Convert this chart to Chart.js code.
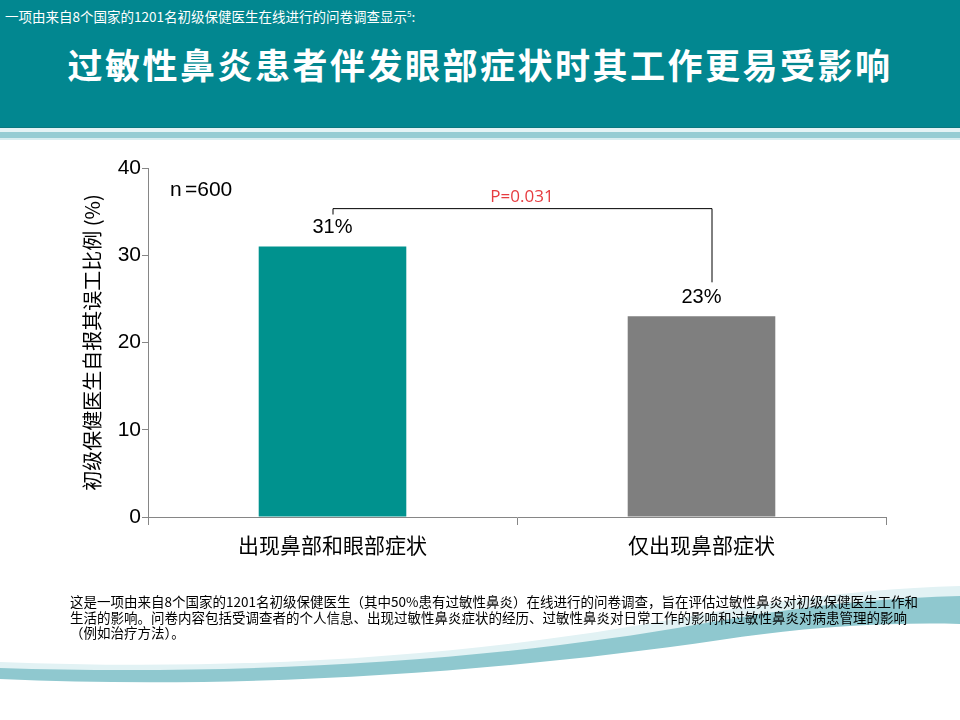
<!DOCTYPE html>
<html>
<head>
<meta charset="utf-8">
<script src="https://cdn.jsdelivr.net/npm/chart.js@4.4.1/dist/chart.umd.min.js"></script>
<style>
  html, body { margin: 0; padding: 0; background: #fff; }
  #page { position: relative; width: 960px; height: 720px; overflow: hidden; background: #fff; }
  #header { position: absolute; left: 0; top: 0; width: 960px; height: 127px; background: #028790; }
  .stripe { position: absolute; left: 0; width: 960px; }
  #subtitle { position: absolute; left: 5px; top: 6px; color: #fff; font: 13.5px "Noto Sans CJK SC", sans-serif; white-space: nowrap; }
  #subtitle sup { font-size: 8px; }
  #title { position: absolute; left: 0; top: 40px; width: 960px; text-align: center; color: #fff;
           font: 700 35px/48px "Noto Sans CJK SC", sans-serif; letter-spacing: 2.5px; white-space: nowrap; }
  #wave { position: absolute; left: 0; top: 0; }
  #chartBox { position: absolute; left: 0; top: 0; width: 960px; height: 720px; }
  #note { position: absolute; left: 70px; top: 594px; color: #000; font: 13.5px/15.5px "Noto Sans CJK SC", sans-serif; white-space: nowrap; }
</style>
</head>
<body>
<div id="page">
  <div id="header">
    <div id="subtitle">一项由来自8个国家的1201名初级保健医生在线进行的问卷调查显示<sup>5</sup>:</div>
    <div id="title">过敏性鼻炎患者伴发眼部症状时其工作更易受影响</div>
  </div>
  <div class="stripe" style="top:127px;height:1px;background:#0b7880"></div>
  <div class="stripe" style="top:128px;height:4px;background:#e4f3f5"></div>
  <div class="stripe" style="top:132px;height:6px;background:#95ccd3"></div>
  <div class="stripe" style="top:138px;height:2px;background:#d8edf0"></div>

  <svg id="wave" width="960" height="720">
    <path d="M0,662 C250,672 480,655 680,618 C790,598 880,588 960,586 L960,600 C860,604 760,620 650,642 C450,676 220,680 0,672 Z" fill="#e2f2f4"/>
    <path d="M0,668 C250,676 500,660 700,624 C800,606 880,598 960,596 L960,624 C880,622 800,628 720,640 C500,672 250,690 0,679 Z" fill="#8fc8cf"/>
  </svg>

  <div id="chartBox"><canvas id="myChart"></canvas></div>

  <div id="note">这是一项由来自8个国家的1201名初级保健医生（其中50%患有过敏性鼻炎）在线进行的问卷调查，旨在评估过敏性鼻炎对初级保健医生工作和<br>生活的影响。问卷内容包括受调查者的个人信息、出现过敏性鼻炎症状的经历、过敏性鼻炎对日常工作的影响和过敏性鼻炎对病患管理的影响<br>（例如治疗方法）。</div>
</div>

<script>
// 数据
const categories = ["出现鼻部和眼部症状", "仅出现鼻部症状"];
const values = [31, 23];
const barColors = ["#00928e", "#7f7f7f"];
const yTicks = [0, 10, 20, 30, 40];
const yTitle = "初级保健医生自报其误工比例 (%)";
const sampleText = "n=600";
const pValueText = "P=0.031";

const axisColor = "#868686";
const numFont = '"Liberation Sans", Arial, sans-serif';
const cjkFont = '"Noto Sans CJK SC", sans-serif';

// 柱顶数值、n=600 和显著性括号
const annotations = {
  id: "annotations",
  afterDatasetsDraw(chart) {
    const ctx = chart.ctx;
    const y = chart.scales.y;
    const bars = chart.getDatasetMeta(0).data;
    ctx.save();
    ctx.fillStyle = "#000";
    ctx.font = "20px " + numFont;
    ctx.textAlign = "center";
    ctx.textBaseline = "middle";
    bars.forEach((bar, i) => {
      ctx.fillText(values[i] + "%", bar.x, bar.y - 19);
    });

    ctx.font = "21px " + numFont;
    ctx.textAlign = "left";
    ctx.fillText("n", chart.chartArea.left + 22, y.getPixelForValue(37.4));
    ctx.fillText(sampleText.slice(1), chart.chartArea.left + 37, y.getPixelForValue(37.4));

    const top = y.getPixelForValue(35.4);
    const x0 = bars[0].x;
    const x1 = bars[1].x + 10;
    ctx.strokeStyle = "#000";
    ctx.lineWidth = 1;
    ctx.beginPath();
    ctx.moveTo(x0 + 0.5, bars[0].y - 32);
    ctx.lineTo(x0 + 0.5, top + 0.5);
    ctx.lineTo(x1 + 0.5, top + 0.5);
    ctx.lineTo(x1 + 0.5, bars[1].y - 34);
    ctx.stroke();

    ctx.fillStyle = "#e63c40";
    ctx.font = '17px "Open Sans", sans-serif';
    ctx.textAlign = "center";
    ctx.fillText(pValueText, (x0 + x1) / 2, top - 11);
    ctx.restore();
  }
};

const canvas = document.getElementById("myChart");
const myChart = new Chart(canvas, {
  type: "bar",
  data: {
    labels: categories,
    datasets: [
      {
        data: values,
        backgroundColor: barColors,
        borderWidth: 0,
        barPercentage: 0.4,
        categoryPercentage: 1.0,
      },
    ],
  },
  options: {
    responsive: true,
    maintainAspectRatio: false,
    animation: false,
    layout: { padding: { left: 58, right: 74, top: 168, bottom: 153 } },
    plugins: { legend: { display: false }, tooltip: { enabled: false } },
    scales: {
      x: {
        afterFit: (scale) => { scale.height = 50; },
        grid: { offset: true, drawOnChartArea: false, tickLength: 8, color: axisColor },
        border: { display: true, color: axisColor },
        ticks: { color: "#000", padding: 7, font: { family: cjkFont, size: 21 } },
      },
      y: {
        min: 0,
        max: 40,
        afterFit: (scale) => { scale.width = 90; },
        afterBuildTicks: (scale) => { scale.ticks = yTicks.map((v) => ({ value: v })); },
        grid: { drawOnChartArea: false, tickLength: 6, color: axisColor },
        border: { display: true, color: axisColor },
        ticks: { color: "#000", padding: 1, font: { family: numFont, size: 21 } },
        title: {
          display: true,
          text: yTitle,
          color: "#000",
          padding: { top: 22, bottom: 0 },
          font: { family: cjkFont, size: 20 },
        },
      },
    },
  },
  plugins: [annotations],
});
</script>
</body>
</html>
